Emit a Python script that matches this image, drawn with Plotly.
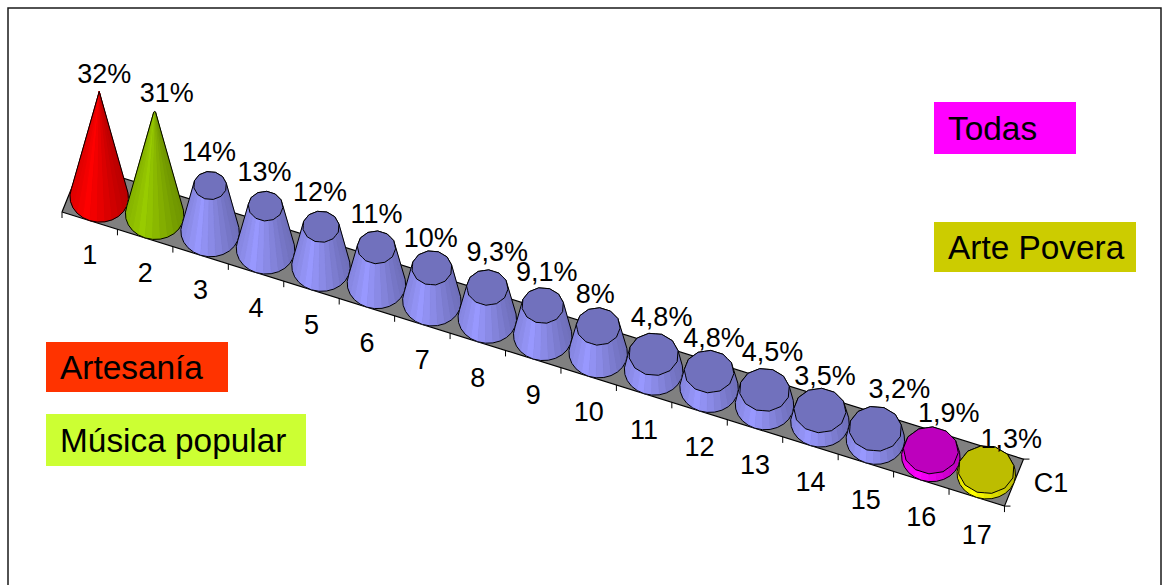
import math
import plotly.graph_objects as go

# Share of works per category, in percent
categories = [str(n) for n in range(1, 18)]
values = [32, 31, 14, 13, 12, 11, 10, 9.3, 9.1, 8, 4.8, 4.8, 4.5, 3.5, 3.2, 1.9, 1.3]
series_name = "C1"

# Side colour of each cone
RED, GREEN, BLUE, MAGENTA, YELLOW = (255, 0, 0), (153, 204, 0), (153, 153, 255), (255, 0, 255), (255, 255, 0)
cone_colors = [RED, GREEN] + [BLUE] * 13 + [MAGENTA, YELLOW]

# Offset of each value label from the top of its cone, in pixels
label_dx = [5, 12, -1, -1, -1, 0, -1, 10, 4, -3, 8, 5, 8, 5, 24, 18, 25]
label_dy = [-15, -17, -31, -32, -33, -31, -28, -33, -31, -30, -35, -31, -36, -32, -38, -35, -28]

# Key boxes: text, fill, left, right, top, bottom
key_labels = ["Artesanía", "Música popular", "Todas", "Arte Povera"]
key_colors = ["#FF3300", "#CCFF33", "#FF00FF", "#CCCC00"]
key_boxes = [(46, 228, 342, 392), (46, 306, 414, 466), (934, 1076, 102, 154), (934, 1136, 222, 272)]

FONT = "Liberation Sans, Arial, sans-serif"
V_MAX = max(values)
RADIUS = 0.5
SEGMENTS = 24


def project(u, d, h=0.0):
    """Oblique projection: u along the categories, d across the floor, h in percent."""
    return (62 + 55.44 * u + 19 * d, 212 + 17.3 * u - 47 * d - 3.3 * h)


def ring(center_u, h, radius):
    """Projected circle around the middle of a category."""
    pts = []
    for k in range(SEGMENTS):
        t = 2 * math.pi * k / SEGMENTS
        pts.append(project(center_u + radius * math.cos(t), 0.5 + radius * math.sin(t), h))
    return pts


def facet(pts, phase):
    """Pull every second point onto a chord so the top reads as a coarse polygon."""
    out = []
    n = len(pts)
    for k, p in enumerate(pts):
        if (k + phase) % 2:
            a, b = pts[k - 1], pts[(k + 1) % n]
            out.append(((a[0] + b[0]) / 2, (a[1] + b[1]) / 2))
        else:
            out.append(p)
    return out


def hull(points):
    pts = sorted(set(points))
    def half(seq):
        chain = []
        for p in seq:
            while len(chain) >= 2 and (
                (chain[-1][0] - chain[-2][0]) * (p[1] - chain[-2][1])
                - (chain[-1][1] - chain[-2][1]) * (p[0] - chain[-2][0])
            ) <= 0:
                chain.pop()
            chain.append(p)
        return chain[:-1]
    return half(pts) + half(pts[::-1])


def shade(color, s):
    """Facet colour from its horizontal position s in [-1, 1] on the cone."""
    if s < -0.45:
        f = 0.88 + 0.12 * (s + 1) / 0.55
    else:
        f = 1.0 - 0.27 * (s + 0.45) / 1.45
    return "rgb({},{},{})".format(*[int(c * f) for c in color])


def closed(pts):
    return [p[0] for p in pts] + [pts[0][0]], [p[1] for p in pts] + [pts[0][1]]


def area_trace(pts, fill, line="rgba(0,0,0,0)", width=0.0):
    xs, ys = closed(pts)
    return go.Scatter(x=xs, y=ys, mode="lines", fill="toself", fillcolor=fill,
                      line=dict(color=line, width=width), hoverinfo="skip", showlegend=False)


fig = go.Figure()

# Floor of the plot
n_cat = len(categories)
floor = [project(0, 0), project(n_cat, 0), project(n_cat, 1), project(0, 1)]
fig.add_trace(area_trace(floor, "#808080", "#000000", 1.2))

# Tick marks under the near edge and on the depth axis
tick_x, tick_y = [], []
for u in range(n_cat + 1):
    x0, y0 = project(u, 0)
    tick_x += [x0, x0, None]
    tick_y += [y0, y0 + 6, None]
for d in (0, 1):
    x0, y0 = project(n_cat, d)
    tick_x += [x0, x0 + 6, None]
    tick_y += [y0, y0, None]
fig.add_trace(go.Scatter(x=tick_x, y=tick_y, mode="lines", line=dict(color="#000000", width=1),
                         hoverinfo="skip", showlegend=False))

# Cones, truncated in proportion to their value
tops = []
for i, (v, color) in enumerate(zip(values, cone_colors)):
    cu = i + 0.5
    base = ring(cu, 0, RADIUS)
    top_r = RADIUS * (1 - v / V_MAX)
    top = facet(ring(cu, v, top_r), i)
    cx = project(cu, 0.5)[0]
    half_w = max(p[0] for p in base) - cx
    tops.append(project(cu, 0.5, v))

    fig.add_trace(area_trace(hull(base + top), shade(color, 1)))
    for k in range(SEGMENTS):
        m = (k + 1) % SEGMENTS
        quad = [base[k], base[m], top[m], top[k]]
        signed = sum(quad[j][0] * quad[(j + 1) % 4][1] - quad[(j + 1) % 4][0] * quad[j][1] for j in range(4))
        if signed >= 0:
            continue
        s = (sum(p[0] for p in quad[:2]) / 2 - cx) / half_w
        c = shade(color, s)
        fig.add_trace(area_trace(quad, c, c, 0.5))
    fig.add_trace(area_trace(hull(base + top), "rgba(0,0,0,0)", "#000000", 1))
    if top_r > 0.03:
        top_fill = "rgb({},{},{})".format(*[int(c * 0.745) for c in color])
        fig.add_trace(area_trace(top, top_fill, "#000000", 1))

# Value labels above the cones
fig.add_trace(go.Scatter(
    x=[p[0] + dx for p, dx in zip(tops, label_dx)],
    y=[p[1] + dy for p, dy in zip(tops, label_dy)],
    mode="text", text=[f"{v:g}".replace(".", ",") + "%" for v in values],
    textposition="middle center", textfont=dict(family=FONT, size=27, color="#000000"),
    hoverinfo="skip", showlegend=False))

# Category labels below the near edge, plus the series label at the end of the depth axis
cat_pts = [project(i + 0.5, 0) for i in range(n_cat)]
series_pt = project(n_cat, 0.5)
fig.add_trace(go.Scatter(
    x=[p[0] for p in cat_pts] + [series_pt[0] + 37],
    y=[p[1] + 37 + 0.15 * i for i, p in enumerate(cat_pts)] + [series_pt[1] + 3],
    mode="text", text=categories + [series_name],
    textposition="middle center", textfont=dict(family=FONT, size=27, color="#000000"),
    hoverinfo="skip", showlegend=False))

# Chart frame and coloured key boxes
shapes = [dict(type="rect", x0=8, x1=1161, y0=8, y1=620, line=dict(color="#1a1a1a", width=1.5), layer="below")]
annotations = []
for text, fill, (x0, x1, y0, y1) in zip(key_labels, key_colors, key_boxes):
    shapes.append(dict(type="rect", x0=x0, x1=x1, y0=y0, y1=y1, fillcolor=fill, line=dict(width=0), layer="below"))
    annotations.append(dict(x=x0 + 12, y=(y0 + y1) / 2, text=text, showarrow=False, xanchor="left", yanchor="middle",
                            font=dict(family=FONT, size=33.4, color="#000000")))

axis = dict(visible=False, fixedrange=True, showgrid=False, zeroline=False)
fig.update_layout(
    width=1162, height=585, autosize=False,
    margin=dict(l=0, r=0, t=0, b=0),
    paper_bgcolor="#ffffff", plot_bgcolor="#ffffff",
    xaxis=dict(range=[0, 1162], **axis),
    yaxis=dict(range=[585, 0], **axis),
    shapes=shapes, annotations=annotations, showlegend=False,
)

fig.write_html("out.html", config=dict(displayModeBar=False))
